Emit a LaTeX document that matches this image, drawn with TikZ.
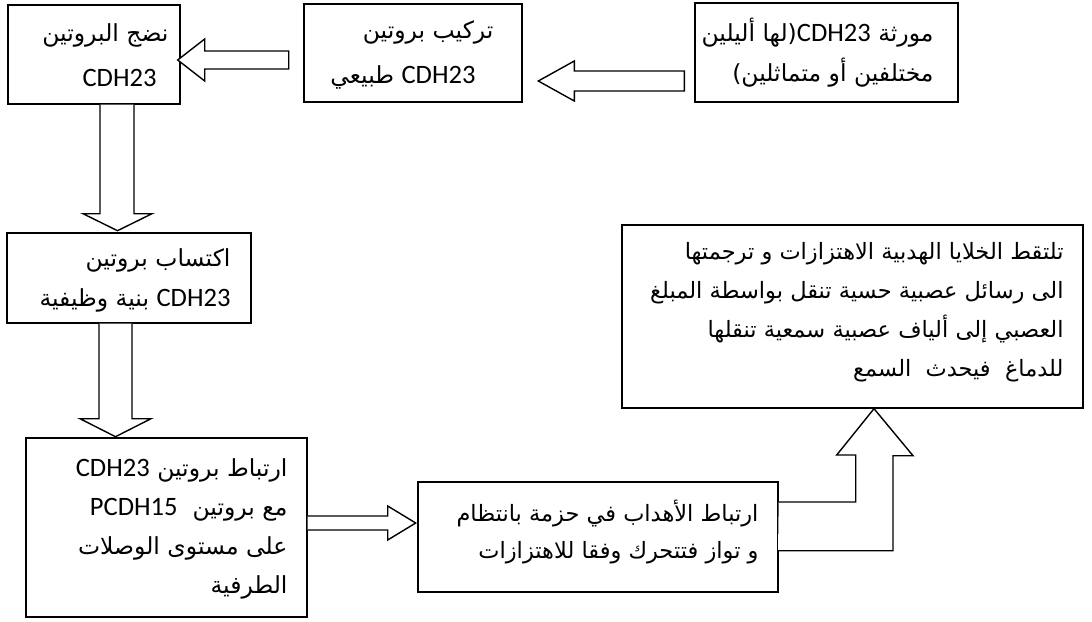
\documentclass[tikz,border=0pt]{standalone}
\usepackage{fontspec}
\usetikzlibrary{calc}
\TeXXeTstate=1
\newfontfamily\arabicfont[Script=Arabic]{DejaVu Sans}
\newfontfamily\latinfont[Scale=1.13]{Carlito}
\newcommand{\cdh}{\beginL{\latinfont CDH23}\endL}
\newcommand{\pcdh}{\beginL{\latinfont PCDH15}\endL}
\tikzset{
	every text node part/.style = {align=right},
	frame/.style = {draw, line width=1.4pt, inner sep=0pt},
	txt/.style = {anchor=east, inner sep=0pt,
		font=\arabicfont\fontsize{23.5}{45}\selectfont},
	txtb/.style = {txt, font=\arabicfont\fontsize{22.5}{39}\selectfont},
	blk/.style = {draw, line width=1.4pt, line join=miter, fill=white}
}

\begin{document}
\begin{tikzpicture}[x=1pt, y=-1pt]
	\useasboundingbox (0,0) rectangle (1092,621);
	
	% top row
	\node [frame, minimum width=172, minimum height=99] (mat) at (94,54.5) {};
	\node [txt] (mat-t) at ($(mat.east)+(-12,1)$)
		{\beginR نضج البروتين\endR\\ \cdh\hspace*{12pt}};
	\node [frame, minimum width=218, minimum height=98] (rec) at (413,53) {};
	\node [txt] (rec-t) at ($(rec.east)+(-29,2)$)
		{\beginR تركيب بروتين\endR\\ \beginR\cdh{} طبيعي\endR\hspace*{18pt}};
	\node [frame, minimum width=263, minimum height=99] (gene) at (826.5,52.5) {};
	\node [txt, font=\arabicfont\fontsize{23.5}{40}\selectfont] (gene-t) at ($(gene.east)+(-25,0)$)
		{\beginR مورثة \cdh(لها أليلين\endR\\ \beginR مختلفين أو متماثلين)\endR};
	
	% left column
	\node [frame, minimum width=244, minimum height=90] (acq) at (129,278) {};
	\node [txt, font=\arabicfont\fontsize{23.5}{40}\selectfont] (acq-t) at ($(acq.east)+(-21,2)$)
		{\beginR اكتساب بروتين\endR\\ \beginR\cdh{} بنية وظيفية\endR};
	\node [frame, minimum width=281, minimum height=179] (bind) at (166.5,527.5) {};
	\node [txt, font=\arabicfont\fontsize{23.5}{39}\selectfont] (bind-t) at ($(bind.east)+(-20,1)$)
		{\beginR ارتباط بروتين \cdh\endR\\ \beginR مع بروتين \ \pcdh\endR\\
		 \beginR على مستوى الوصلات\endR\\ \beginR الطرفية\endR};
	
	% right part
	\node [frame, minimum width=360, minimum height=110] (bund) at (598,537) {};
	\node [txtb, font=\arabicfont\fontsize{22.5}{37}\selectfont] (bund-t) at ($(bund.east)+(-20,-5)$)
		{\beginR ارتباط الأهداب في حزمة بانتظام\endR\\ \beginR و تواز فتتحرك وفقا للاهتزازات\endR};
	\node [frame, minimum width=461, minimum height=183] (hear) at (852.5,316.5) {};
	\node [txtb] (hear-t) at ($(hear.east)+(-20,-4)$)
		{\beginR تلتقط الخلايا الهدبية الاهتزازات و ترجمتها\endR\\
		 \beginR الى رسائل عصبية حسية تنقل بواسطة المبلغ\endR\\
		 \beginR العصبي إلى ألياف عصبية سمعية تنقلها\endR\\
		 \beginR للدماغ \ فيحدث \ السمع\endR};
	
	% block arrows
	\draw [blk] ($(gene.west)+(-156,28.5)$) -- ++(36,-20) -- ++(0,10) -- ++(110,0)
		-- ++(0,20) -- ++(-110,0) -- ++(0,10) -- cycle;
	\draw [blk] ($(mat.east)+(-3,5.5)$) -- ++(27,-21) -- ++(0,12) -- ++(84,0)
		-- ++(0,18) -- ++(-84,0) -- ++(0,12) -- cycle;
	\draw [blk] ($(mat.south)+(6,0)$) -- ++(0,109) -- ++(-17,0) -- ++(34.5,17)
		-- ++(34.5,-17) -- ++(-18,0) -- ++(0,-109);
	\draw [blk] ($(acq.south)+(-30,0)$) -- ++(0,95) -- ++(-19,0) -- ++(35.5,18)
		-- ++(35.5,-18) -- ++(-19,0) -- ++(0,-95);
	\draw [blk] ($(bind.east)+(0,-11.5)$) -- ++(80,0) -- ++(0,-10) -- ++(28,17)
		-- ++(-28,17) -- ++(0,-10) -- ++(-80,0);
	\draw [blk] ($(bund.east)+(0,-35)$) -- ++(77,0) -- ++(0,-47) -- ++(-19,0)
		-- ($(hear.south)+(21.5,0)$) -- ++(39,47) -- ++(-20,0) -- ++(0,95) -- ++(-115,0);
\end{tikzpicture}
\end{document}
